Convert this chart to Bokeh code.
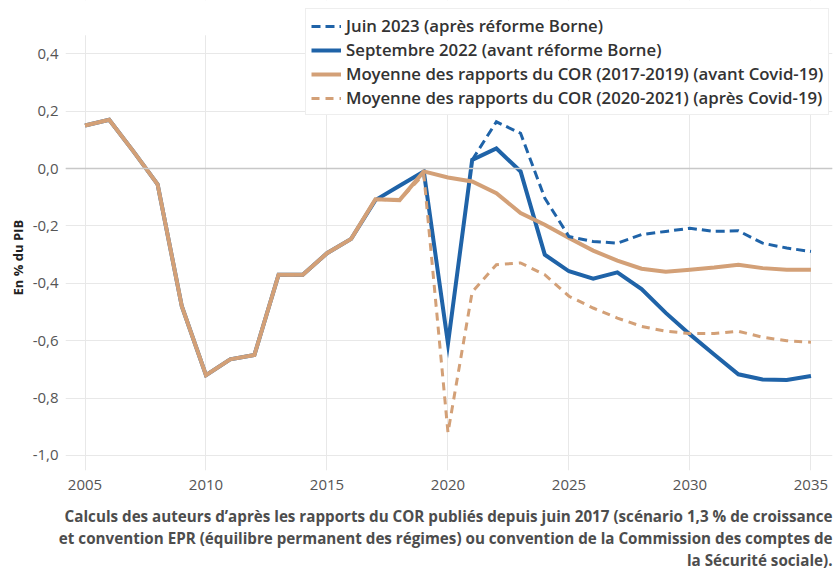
from bokeh.plotting import figure
from bokeh.models import Legend, LegendItem, FixedTicker, Span, Title, Range1d, BoxAnnotation
from bokeh.embed import file_html
from bokeh.resources import INLINE

# ---- data ----
years = [2005, 2006, 2007, 2008, 2009, 2010, 2011, 2012, 2013, 2014, 2015,
         2016, 2017, 2018, 2019, 2020, 2021, 2022, 2023, 2024, 2025, 2026,
         2027, 2028, 2029, 2030, 2031, 2032, 2033, 2034, 2035]

septembre_2022 = [0.15, 0.17, 0.06, -0.055, -0.48, -0.72, -0.665, -0.65, -0.37, -0.37, -0.295,
                  -0.245, -0.11, -0.06, -0.01, -0.61, 0.03, 0.07, -0.01, -0.30, -0.358, -0.384,
                  -0.362, -0.42, -0.503, -0.578, -0.648, -0.717, -0.735, -0.737, -0.723]

cor_2017_2019 = [0.15, 0.17, 0.06, -0.055, -0.48, -0.72, -0.665, -0.65, -0.37, -0.37, -0.295,
                 -0.245, -0.107, -0.11, -0.01, -0.031, -0.045, -0.086, -0.155, -0.196, -0.242, -0.286,
                 -0.321, -0.349, -0.36, -0.353, -0.345, -0.335, -0.347, -0.353, -0.353]

cor_2020_2021 = [0.15, 0.17, 0.06, -0.055, -0.48, -0.72, -0.665, -0.65, -0.37, -0.37, -0.295,
                 -0.245, -0.107, -0.11, -0.02, -0.92, -0.43, -0.335, -0.329, -0.37, -0.445, -0.486,
                 -0.521, -0.55, -0.567, -0.575, -0.575, -0.567, -0.588, -0.60, -0.605]

juin_years = [2021, 2022, 2023, 2024, 2025, 2026, 2027, 2028, 2029, 2030, 2031, 2032, 2033, 2034, 2035]
juin_2023 = [0.03, 0.163, 0.123, -0.103, -0.237, -0.254, -0.26, -0.23, -0.219, -0.208, -0.219,
             -0.217, -0.26, -0.277, -0.289]

x_ticks = [2005, 2010, 2015, 2020, 2025, 2030, 2035]
y_ticks = [-1.0, -0.8, -0.6, -0.4, -0.2, 0.0, 0.2, 0.4]
y_tick_labels = ["-1,0", "-0,8", "-0,6", "-0,4", "-0,2", "0,0", "0,2", "0,4"]

legend_labels = ["Juin 2023 (après réforme Borne)",
                 "Septembre 2022 (avant réforme Borne)",
                 "Moyenne des rapports du COR (2017-2019) (avant Covid-19)",
                 "Moyenne des rapports du COR (2020-2021) (après Covid-19)"]

caption_lines = ["Calculs des auteurs d’après les rapports du COR publiés depuis juin 2017 (scénario 1,3 % de croissance",
                 "et convention EPR (équilibre permanent des régimes) ou convention de la Commission des comptes de",
                 "la Sécurité sociale)."]

y_label = "En % du PIB"

BLUE = "#1f63a8"
TAN = "#d3a077"
FONT = "Open Sans"
SEMI = "'Open Sans SemiBold', 'Open Sans'"

p = figure(width=838, height=569, output_backend="svg", toolbar_location=None,
           x_range=Range1d(2004.194, 2035.89), y_range=Range1d(-1.0523, 0.5857),
           min_border_left=65, min_border_top=0, min_border_right=6, min_border_bottom=0,
           background_fill_color="white", border_fill_color="white")
p.outline_line_color = None

# axes
for ax in (p.xaxis[0], p.yaxis[0]):
    ax.axis_line_color = None
    ax.major_tick_line_color = None
    ax.minor_tick_line_color = None
    ax.major_tick_out = 0
    ax.major_tick_in = 0
    ax.minor_tick_out = 0
    ax.minor_tick_in = 0
    ax.major_label_text_font = FONT
    ax.major_label_text_font_size = "15px"
    ax.major_label_text_color = "#555555"

p.xaxis[0].ticker = FixedTicker(ticks=x_ticks)
p.xaxis[0].major_label_standoff = 9
p.yaxis[0].ticker = FixedTicker(ticks=y_ticks)
p.yaxis[0].major_label_overrides = {t: l for t, l in zip(y_ticks, y_tick_labels)}
p.yaxis[0].major_label_standoff = 7

p.xgrid[0].ticker = FixedTicker(ticks=x_ticks)
p.ygrid[0].ticker = FixedTicker(ticks=y_ticks)
for g in (p.xgrid[0], p.ygrid[0]):
    g.grid_line_color = "#e8e8e8"
    g.grid_line_width = 1

# hide the grid above the plotting area (the legend sits there)
p.add_layout(BoxAnnotation(bottom=0.465, fill_color="white", fill_alpha=1,
                           line_color=None, level="underlay"))
p.add_layout(Span(location=0, dimension="width", line_color="#c8c8c8", line_width=1.5))

r_sept = p.line(years, septembre_2022, line_color=BLUE, line_width=4, line_join="miter")
r_avant = p.line(years, cor_2017_2019, line_color=TAN, line_width=4, line_join="miter")
r_apres = p.line(years, cor_2020_2021, line_color=TAN, line_width=3, line_dash="8 6", line_join="miter")
r_juin = p.line(juin_years, juin_2023, line_color=BLUE, line_width=3, line_dash="9 5", line_join="miter")

legend = Legend(items=[LegendItem(label=legend_labels[0], renderers=[r_juin]),
                       LegendItem(label=legend_labels[1], renderers=[r_sept]),
                       LegendItem(label=legend_labels[2], renderers=[r_avant]),
                       LegendItem(label=legend_labels[3], renderers=[r_apres])],
                location=(240, 355))
legend.label_text_font = SEMI
legend.label_text_font_size = "16.8px"
legend.label_text_color = "#333333"
legend.glyph_width = 30
legend.glyph_height = 20
legend.label_standoff = 5
legend.label_height = 20
legend.spacing = 1
legend.padding = 5
legend.margin = 0
legend.border_line_color = "#dddddd"
legend.border_line_width = 1
legend.background_fill_color = "white"
legend.background_fill_alpha = 1
p.add_layout(legend)

# y axis title, placed beside the tick labels
p.add_layout(Title(text=y_label, align="left", offset=175, standoff=5, text_font=FONT,
                   text_font_size="13px", text_font_style="bold", text_color="#222222"), "left")

# gap between the x tick labels and the source note
p.add_layout(Title(text="\u00a0", text_font=FONT, text_font_size="1px", standoff=8), "below")

# source note under the x axis
for line in caption_lines:
    p.add_layout(Title(text=line, align="right", text_font=FONT, text_font_size="15.2px",
                       text_font_style="bold", text_color="#4d4d4d", standoff=0, offset=0),
                 "below")

open("out.html", "w").write(file_html(p, INLINE))
